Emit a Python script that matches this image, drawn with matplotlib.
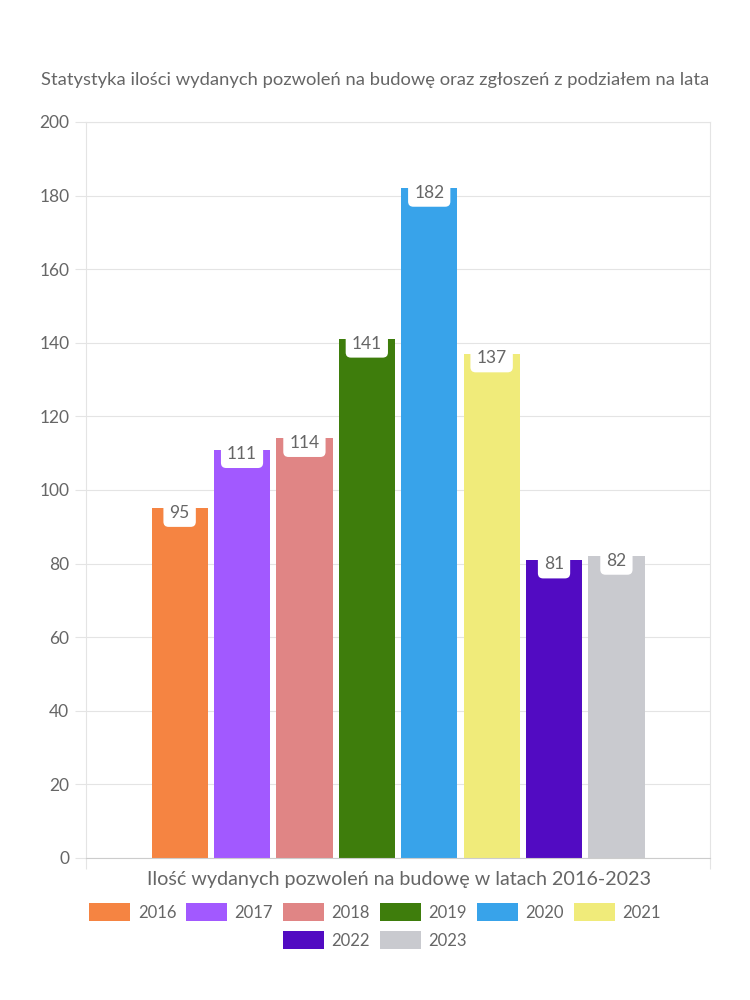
"""Building permits per year, grouped bar chart."""
import matplotlib

matplotlib.use("Agg")
import matplotlib.pyplot as plt
from matplotlib.patches import Patch

years = ["2016", "2017", "2018", "2019", "2020", "2021", "2022", "2023"]
permits = [95, 111, 114, 141, 182, 137, 81, 82]
colors = ["#F58442", "#A259FF", "#E08585", "#3E7D0C",
          "#38A3EA", "#F0EB7A", "#520BC2", "#C9CACF"]
yticks = [0, 20, 40, 60, 80, 100, 120, 140, 160, 180, 200]

title = "Statystyka ilości wydanych pozwoleń na budowę oraz zgłoszeń z podziałem na lata"
xlabel = "Ilość wydanych pozwoleń na budowę w latach 2016-2023"

plt.rcParams["font.family"] = ["Lato", "DejaVu Sans"]
text_color = "#666666"
grid_color = "#E4E4E4"

fig = plt.figure(figsize=(7.5, 10), dpi=100)
ax = fig.add_axes([0.1147, 0.142, 0.832, 0.736])

n = len(years)
slot = 0.1
width = 0.09
for i, (yr, v, c) in enumerate(zip(years, permits, colors)):
    x = -slot * n / 2 + slot * (i + 0.5)
    ax.bar(x, v, width=width, color=c, zorder=2)
    ax.text(x, v - 1.2, str(v), ha="center", va="center", fontsize=12.5,
            color=text_color, zorder=3,
            bbox=dict(boxstyle="round,pad=0.35,rounding_size=0.3",
                      fc="white", ec="none"))

ax.set_xlim(-0.5, 0.5)
ax.set_ylim(0, 200)
ax.set_yticks(yticks)
ax.set_xticks([-0.5, 0.5])
ax.set_xticklabels(["", ""])
ax.tick_params(axis="y", length=8, color=grid_color, labelsize=12.5,
               labelcolor=text_color, pad=4)
ax.tick_params(axis="x", length=8, color=grid_color)
ax.grid(axis="y", color=grid_color, linewidth=0.8, zorder=0)
for s in ax.spines.values():
    s.set_color(grid_color)
    s.set_linewidth(0.8)
ax.spines["bottom"].set_color("#CCCCCC")

fig.text(0.5, 0.92, title, ha="center", va="center", fontsize=13.2,
         color=text_color)
fig.text(0.532, 0.12, xlabel, ha="center", va="center", fontsize=14.2,
         color=text_color)

handles = [Patch(facecolor=c, edgecolor="none", label=y)
           for y, c in zip(years, colors)]
leg_kw = dict(frameon=False, fontsize=12, handlelength=2.45,
              handleheight=1.2, handletextpad=0.45, columnspacing=0.6,
              labelcolor=text_color, borderaxespad=0)
fig.legend(handles=handles[:6], ncol=6, loc="center",
           bbox_to_anchor=(0.5, 0.088), **leg_kw)
fig.legend(handles=handles[6:], ncol=2, loc="center",
           bbox_to_anchor=(0.5, 0.06), **leg_kw)

fig.savefig("out.png", dpi=100)
plt.close(fig)
